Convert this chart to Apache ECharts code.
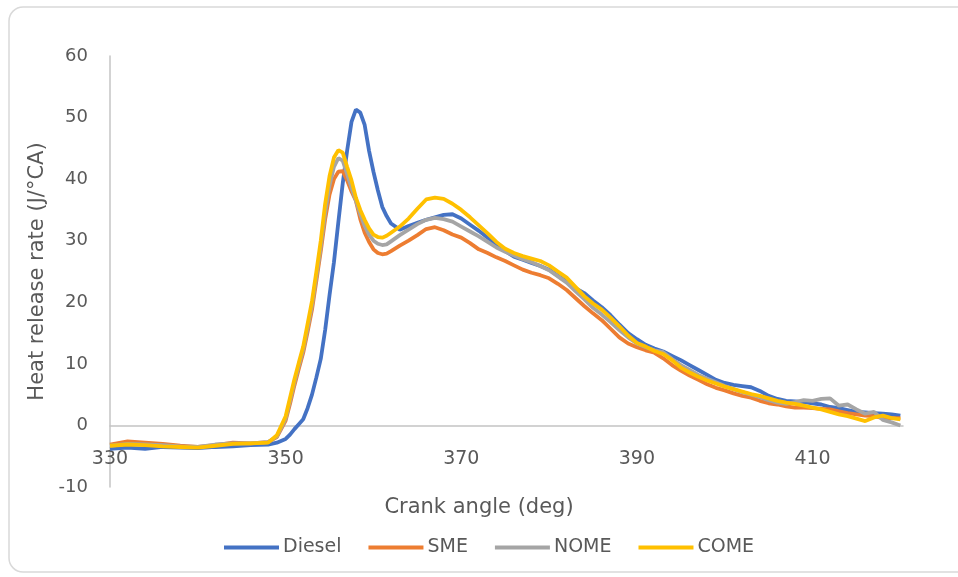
<!DOCTYPE html>
<html>
<head>
<meta charset="utf-8">
<script src="https://cdn.jsdelivr.net/npm/echarts@6/dist/echarts.min.js"></script>
<style>
  html, body { margin: 0; padding: 0; background: #ffffff; }
  #chart { width: 958px; height: 577px; }
</style>
</head>
<body>
<div id="chart"></div>
<script>
// Crank angle samples (deg), shared by all fuels
const angle = [
  330, 332, 334, 336, 338, 340, 342, 344, 346, 348, 349,
  350, 350.5, 351, 351.5, 352, 352.5, 353, 353.5, 354, 354.5, 355, 355.5,
  356, 356.5, 357, 357.5, 358, 358.5, 359, 359.5, 360, 360.5, 361, 361.5, 362,
  363, 364, 365, 366, 367, 368, 369, 370, 371, 372, 373, 374, 375, 376, 377, 378,
  379, 380, 381, 382, 383, 384, 385, 386, 387, 388, 389, 390, 391, 392, 393, 394,
  395, 396, 397, 398, 399, 400, 401, 402, 403, 404, 405, 406, 407, 408, 409, 410,
  411, 412, 413, 414, 415, 416, 417, 418, 419, 420
];

// Heat release rate (J/°CA)
const diesel = [
  -3.8, -3.6, -3.8, -3.5, -3.6, -3.7, -3.5, -3.4, -3.2, -3.1, -2.8,
  -2.2, -1.5, -0.6, 0.2, 1.0, 2.8, 5.0, 7.8, 10.8, 15.5, 21.2, 26.5,
  33.0, 39.3, 44.6, 49.3, 51.3, 50.8, 48.8, 44.6, 41.2, 38.2, 35.5, 34.0, 32.8,
  31.8, 32.4, 32.9, 33.4, 33.8, 34.2, 34.3, 33.6, 32.6, 31.6, 30.5, 29.4, 28.3, 27.4, 26.9, 26.4,
  25.9, 25.3, 24.3, 23.4, 22.3, 21.5, 20.3, 19.2, 17.9, 16.4, 15.0, 14.0, 13.1, 12.5, 12.0, 11.3,
  10.6, 9.8, 9.0, 8.2, 7.4, 6.9, 6.6, 6.4, 6.2, 5.6, 4.8, 4.3, 4.0, 3.9, 3.8, 3.6,
  3.4, 3.0, 2.8, 2.5, 2.2, 2.1, 2.0, 1.9, 1.8, 1.6
];
const sme = [
  -3.1, -2.6, -2.8, -3.0, -3.3, -3.5, -3.2, -2.8, -2.9, -2.7, -1.9,
  0.8, 3.5, 6.5, 9.2, 11.8, 15.2, 18.8, 23.5, 28.3, 33.5, 37.5, 40.0,
  41.2, 41.3, 39.8, 38.0, 36.5, 33.5, 31.3, 29.8, 28.6, 28.0, 27.8, 27.9, 28.3,
  29.2, 30.0, 30.9, 31.9, 32.2, 31.7, 31.0, 30.5, 29.6, 28.6, 28.0, 27.3, 26.7, 26.0, 25.3, 24.8,
  24.4, 23.9, 23.0, 22.0, 20.7, 19.4, 18.2, 17.1, 15.7, 14.3, 13.3, 12.7, 12.2, 11.8, 10.9, 9.8,
  8.9, 8.1, 7.4, 6.7, 6.1, 5.7, 5.2, 4.8, 4.5, 4.0, 3.6, 3.4, 3.1, 2.9, 2.9, 2.8,
  2.7, 2.6, 2.3, 2.0, 1.8, 1.6, 1.5, 1.2, 1.2, 1.2
];
const nome = [
  -3.3, -3.0, -3.1, -3.2, -3.4, -3.5, -3.1, -2.9, -2.9, -2.7, -1.8,
  1.1, 4.0, 7.0, 9.7, 12.3, 15.8, 19.5, 24.2, 29.0, 34.5, 39.0, 42.0,
  43.4, 43.0, 40.8, 38.6, 36.5, 34.3, 32.4, 31.0, 30.0, 29.5, 29.3, 29.4, 29.9,
  30.9, 31.8, 32.7, 33.4, 33.7, 33.5, 33.1, 32.3, 31.5, 30.7, 29.8, 28.9, 28.2, 27.6, 27.0, 26.5,
  25.9, 25.2, 24.2, 23.2, 21.8, 20.5, 19.1, 18.0, 16.8, 15.5, 14.3, 13.3, 12.7, 12.2, 11.9, 10.8,
  9.8, 9.0, 8.2, 7.6, 7.0, 6.4, 5.9, 5.4, 5.0, 4.6, 4.1, 3.7, 3.5, 3.8, 4.1, 4.0,
  4.3, 4.4, 3.2, 3.4, 2.6, 1.9, 2.2, 0.9, 0.5, 0.0
];
const come = [
  -3.3, -3.1, -3.2, -3.4, -3.5, -3.6, -3.3, -3.0, -2.9, -2.8, -1.6,
  1.5, 4.5, 7.5, 10.2, 12.8, 16.5, 20.2, 25.0, 30.0, 36.0, 40.5, 43.5,
  44.7, 44.3, 42.0, 39.8, 37.0, 35.0, 33.4, 32.0, 31.0, 30.6, 30.5, 30.8, 31.3,
  32.3, 33.6, 35.2, 36.7, 37.0, 36.8, 36.0, 35.0, 33.8, 32.5, 31.2, 29.8, 28.7, 28.0, 27.5, 27.1,
  26.7, 26.0, 25.0, 24.0, 22.5, 21.0, 19.8, 18.8, 17.5, 16.1, 14.6, 13.4, 12.8, 12.1, 11.6, 10.6,
  9.4, 8.6, 7.9, 7.3, 6.8, 6.3, 5.9, 5.5, 5.1, 4.8, 4.4, 4.0, 3.7, 3.5, 3.2, 2.9,
  2.6, 2.2, 1.8, 1.5, 1.1, 0.7, 1.3, 1.6, 1.2, 1.0
];

const fuelNames = ['Diesel', 'SME', 'NOME', 'COME'];
const fuelColors = ['#4472C4', '#ED7D31', '#A5A5A5', '#FFC000'];
const fuelValues = [diesel, sme, nome, come];

const FONT = 'DejaVu Sans';
const TEXT = '#595959';
const AXIS = '#c4c4c4';

// Plot area geometry
const GRID_TOP = 56;
const GRID_BOTTOM = 90;
const CHART_H = 577;
const Y_MIN = -10;
const Y_MAX = 60;
// The horizontal axis sits on the zero line: shift it up from the bottom edge
const plotH = CHART_H - GRID_TOP - GRID_BOTTOM;
const zeroOffset = -plotH * (0 - Y_MIN) / (Y_MAX - Y_MIN);

function pairs(ys) {
  return angle.map((a, i) => [a, ys[i]]);
}

const chart = echarts.init(document.getElementById('chart'), null, { renderer: 'canvas' });

chart.setOption({
  animation: false,
  backgroundColor: '#ffffff',
  textStyle: { fontFamily: FONT, color: TEXT },
  graphic: [
    {
      type: 'rect',
      silent: true,
      z: -10,
      shape: { x: 9, y: 7, width: 990, height: 565, r: 14 },
      style: { fill: null, stroke: '#d9d9d9', lineWidth: 1.5 }
    },
    {
      // horizontal axis title
      type: 'text',
      silent: true,
      left: 'center',
      top: 497,
      style: {
        text: 'Crank angle (deg)',
        fontFamily: FONT,
        fontSize: 21,
        fill: TEXT,
        x: 506,
        textAlign: 'center'
      }
    }
  ],
  grid: { left: 110, right: 55, top: GRID_TOP, bottom: GRID_BOTTOM, containLabel: false, outerBoundsMode: 'none' },
  legend: {
    data: fuelNames,
    left: 219,
    top: 533,
    icon: 'rect',
    itemWidth: 55,
    itemHeight: 4,
    itemGap: 27,
    textStyle: { fontFamily: FONT, fontSize: 19, color: TEXT, padding: [0, 0, 0, -1] }
  },
  xAxis: {
    type: 'value',
    min: 330,
    max: 420.3,
    interval: 20,
    position: 'bottom',
    offset: zeroOffset,
    axisLine: { show: true, onZero: false, lineStyle: { color: AXIS, width: 1.5 } },
    axisTick: { show: false },
    splitLine: { show: false },
    axisLabel: { fontFamily: FONT, fontSize: 19, color: TEXT, margin: 24, showMaxLabel: false }
  },
  yAxis: {
    type: 'value',
    min: Y_MIN,
    max: Y_MAX,
    interval: 10,
    name: 'Heat release rate (J/°CA)',
    nameLocation: 'middle',
    nameGap: 62,
    nameTextStyle: { fontFamily: FONT, fontSize: 21, color: TEXT },
    axisLine: { show: true, onZero: false, lineStyle: { color: AXIS, width: 1.5 } },
    axisTick: { show: false },
    splitLine: { show: false },
    axisLabel: { fontFamily: FONT, fontSize: 18, color: TEXT, margin: 22 }
  },
  series: fuelNames.map((name, k) => ({
    name: name,
    type: 'line',
    data: pairs(fuelValues[k]),
    symbol: 'none',
    smooth: false,
    lineStyle: { color: fuelColors[k], width: 3.8 },
    itemStyle: { color: fuelColors[k] },
    z: 2 + k
  }))
});
</script>
</body>
</html>
